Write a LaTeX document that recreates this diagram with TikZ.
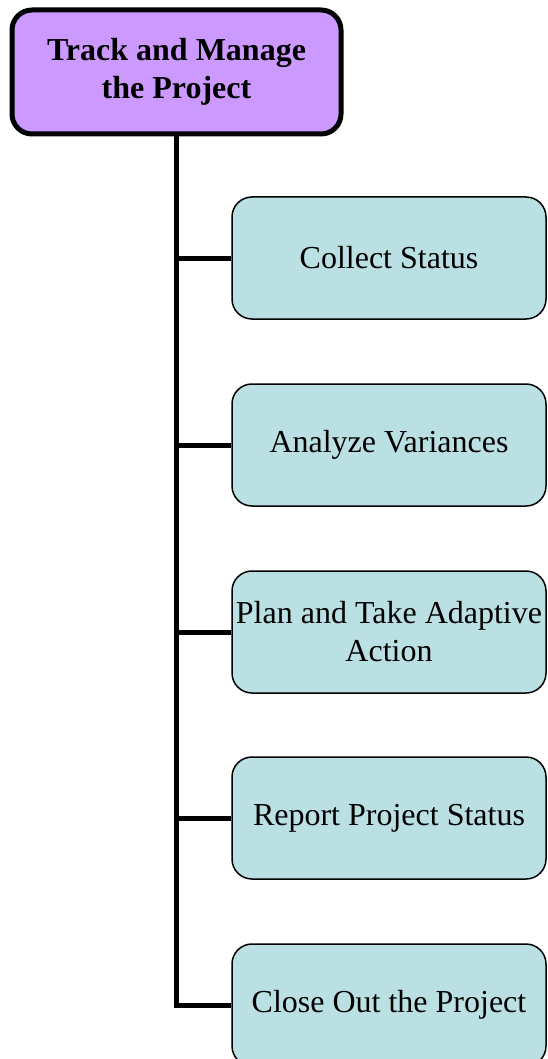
\documentclass[tikz,border=0pt]{standalone}
\usepackage{fontspec}
\setmainfont{Liberation Serif}
\definecolor{rootfill}{HTML}{CC99FF}
\definecolor{taskfill}{HTML}{BAE0E3}
\begin{document}
\begin{tikzpicture}[x=1pt,y=-1pt,
  rootbox/.style={draw=black, line width=5pt, fill=rootfill, rounded corners=20pt,
    minimum width=329pt, minimum height=124pt, align=center,
    font=\fontsize{32}{38}\selectfont\bfseries, inner sep=0pt},
  taskbox/.style={draw=black, line width=1.5pt, fill=taskfill, rounded corners=20pt,
    minimum width=314pt, minimum height=122pt, align=center,
    font=\fontsize{32}{38}\selectfont, inner sep=0pt},
  link/.style={line width=5pt}]
\useasboundingbox (0,0) rectangle (547,1059);
\clip (0,0) rectangle (547,1059);
\node[rootbox] (root) at (176.5,72) {Track and Manage\\the Project};
\node[taskbox] (t1) at (389,258) {Collect Status};
\node[taskbox] (t2) at (389,445) {Analyze Variances};
\node[taskbox] (t3) at (389,632) {Plan and Take Adaptive\\Action};
\node[taskbox] (t4) at (389,818) {Report Project Status};
\node[taskbox] (t5) at (389,1005) {Close Out the Project};
\begin{scope}[on background layer/.try]
\end{scope}
\foreach \t in {t1,t2,t3,t4,t5}
  \draw[link] (root.south) |- (\t.west);
\end{tikzpicture}
\end{document}
